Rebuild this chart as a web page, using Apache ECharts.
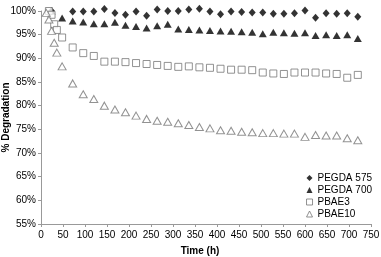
<!DOCTYPE html>
<html><head><meta charset="utf-8">
<script src="https://cdn.jsdelivr.net/npm/echarts@6/dist/echarts.min.js"></script>
<style>html,body{margin:0;padding:0;background:#fff}#c{width:381px;height:257px}</style>
</head><body><div id="c"></div>
<script>
var xTicks = [0,50,100,150,200,250,300,350,400,450,500,550,600,650,700,750];
var yTicks = [55,60,65,70,75,80,85,90,95,100];

var tPEGDA575 = [24,72,96,120,144,168,192,216,240,264,288,312,336,360,384,408,432,456,480,504,528,552,576,600,624,648,672,696,720];
var vPEGDA575 = [100,99.9,99.9,99.9,100.4,99.6,99.2,99.9,99.0,100.3,100,100,100.3,100.5,99.9,99.3,99.9,99.8,99.7,99.7,99.4,99.4,99.5,100.1,98.6,99.5,99.4,99.5,98.8];

var tPEGDA700 = [24,48,72,96,120,144,168,192,216,240,264,288,312,336,360,384,408,432,456,480,504,528,552,576,600,624,648,672,696,720];
var vPEGDA700 = [100,98.5,97.9,97.7,97.3,97.3,97.6,97.0,96.7,96.4,96.9,97.2,96.2,96.1,96.0,95.9,95.8,95.7,95.6,95.5,95.2,95.5,95.4,95.3,95.4,94.8,95.0,94.8,95.0,94.2];

var tPBAE3 = [18,24,30,36,48,72,96,120,144,168,192,216,240,264,288,312,336,360,384,408,432,456,480,504,528,552,576,600,624,648,672,696,720];
var vPBAE3 = [100,99.2,97.2,96.0,94.4,92.3,91.1,90.5,89.3,89.3,89.2,89.0,88.8,88.6,88.4,88.2,88.3,88.1,88.0,87.8,87.6,87.6,87.5,87.0,86.8,86.7,87.0,87.0,87.0,86.8,86.7,85.9,86.5];

var tPBAE10 = [12,18,24,30,36,48,72,96,120,144,168,192,216,240,264,288,312,336,360,384,408,432,456,480,504,528,552,576,600,624,648,672,696,720];
var vPBAE10 = [99.6,98.2,95.8,93.3,91.2,88.3,84.7,82.4,81.4,80.0,79.2,78.6,77.9,77.2,76.8,76.6,76.3,75.9,75.5,75.2,74.8,74.7,74.5,74.4,74.2,74.2,74.1,74.1,73.4,73.8,73.7,73.7,73.1,72.7];

var legendNames = ['PEGDA 575','PEGDA 700','PBAE3','PBAE10'];

function pairs(t,v){return t.map(function(x,i){return [x,v[i]];});}

var chart = echarts.init(document.getElementById('c'));
var font = 'Liberation Sans, Arial, sans-serif';
var openStyle = {color:'#fff',borderColor:'#777',borderWidth:1};
chart.setOption({
  animation:false,
  backgroundColor:'#fff',
  textStyle:{fontFamily:font},
  grid:{left:41,right:10,top:11,bottom:33,containLabel:false,outerBoundsMode:'none'},
  legend:{
    orient:'vertical', right:9, top:172, padding:0, itemGap:0, itemWidth:6, itemHeight:6,
    textStyle:{fontSize:10,color:'#000',fontFamily:font,lineHeight:12,height:12},
    data:[
      {name:legendNames[0],icon:'diamond',itemStyle:{color:'#000'}},
      {name:legendNames[1],icon:'triangle',itemStyle:{color:'#000'}},
      {name:legendNames[2],icon:'rect',itemStyle:openStyle},
      {name:legendNames[3],icon:'triangle',itemStyle:openStyle}
    ]
  },
  xAxis:{
    type:'value', min:0, max:750, interval:50,
    name:'Time (h)', nameLocation:'middle', nameGap:22, nameMoveOverlap:false,
    nameTextStyle:{fontSize:10,fontWeight:'bold',color:'#000',fontFamily:font,padding:[0,12,0,0]},
    axisLine:{lineStyle:{color:'#999',width:1}},
    axisTick:{show:true,length:3,lineStyle:{color:'#999'}},
    axisLabel:{fontSize:10,color:'#000',margin:6,formatter:function(v){return xTicks.indexOf(v)>=0?String(v):'';}},
    splitLine:{show:false}
  },
  yAxis:{
    type:'value', min:55, max:100, interval:5,
    name:'% Degradation', nameLocation:'middle', nameGap:30, nameRotate:90, nameMoveOverlap:false,
    nameTextStyle:{fontSize:10,fontWeight:'bold',color:'#000',fontFamily:font},
    axisLine:{show:true,lineStyle:{color:'#999',width:1}},
    axisTick:{show:true,length:3,lineStyle:{color:'#999'}},
    axisLabel:{fontSize:10,color:'#000',margin:5,formatter:function(v){return yTicks.indexOf(v)>=0?v+'%':'';}},
    splitLine:{show:false}
  },
  series:[
    {name:legendNames[0],type:'scatter',clip:false,symbol:'diamond',symbolSize:[7,8],
     itemStyle:{color:'#000'},data:pairs(tPEGDA575,vPEGDA575)},
    {name:legendNames[1],type:'scatter',clip:false,symbol:'triangle',symbolSize:[8,7],
     itemStyle:{color:'#000'},data:pairs(tPEGDA700,vPEGDA700)},
    {name:legendNames[2],type:'scatter',clip:false,symbol:'rect',symbolSize:7,
     itemStyle:openStyle,data:pairs(tPBAE3,vPBAE3)},
    {name:legendNames[3],type:'scatter',clip:false,symbol:'triangle',symbolSize:[8,7],
     itemStyle:openStyle,data:pairs(tPBAE10,vPBAE10)}
  ]
});
</script></body></html>
